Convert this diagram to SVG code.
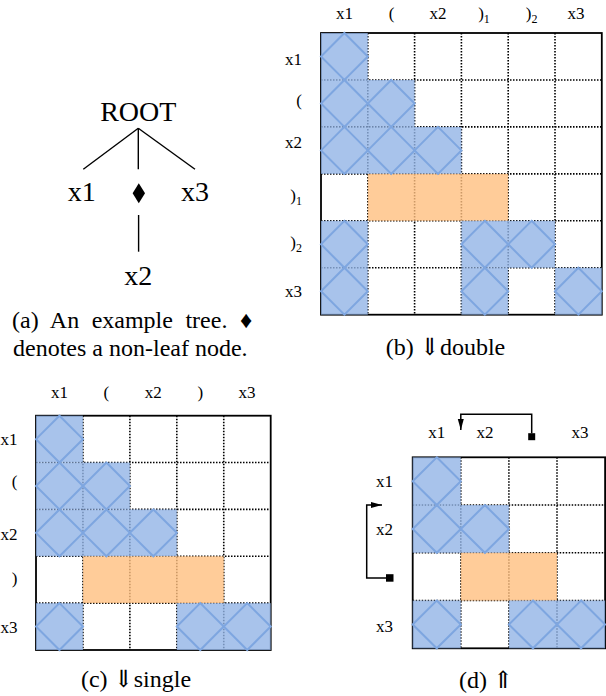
<svg xmlns="http://www.w3.org/2000/svg" width="606" height="696" viewBox="0 0 606 696">
<style>
text{font-family:"Liberation Serif","DejaVu Serif",serif;fill:#000}
.t{font-size:28px;text-anchor:middle}
.lb{font-size:17px;text-anchor:middle}
.rl{font-size:17px;text-anchor:end}
.cap{font-size:24px;text-anchor:middle}
.sub{font-size:12px}
.edge{stroke:#000;stroke-width:1.4;fill:none}
.dot{stroke:#000;stroke-width:1.6;stroke-dasharray:1.5 1.5;fill:none}
.bd{stroke:#000;stroke-width:1.8;fill:none}
.b{fill:#92b4e6;fill-opacity:0.8}
.o{fill:#ffbf80;fill-opacity:0.8}
.d{fill:none;stroke:#7ea6e0;stroke-width:2}
.arr{stroke:#000;stroke-width:1.5;fill:none}
</style>
<defs>
<marker id="ah" markerUnits="userSpaceOnUse" markerWidth="12" markerHeight="7" refX="11" refY="3.5" orient="auto" viewBox="0 0 12 7">
<path d="M0,0.5 L11,3.5 L0,6.5 z" fill="#000"/>
</marker>
</defs>
<rect width="606" height="696" fill="#fff"/>

<!-- (a) tree -->
<g id="tree-connectors">
<line class="edge" x1="138.3" y1="128.3" x2="83.3" y2="169.3"/>
<line class="edge" x1="138.3" y1="128.3" x2="138.3" y2="169.3"/>
<line class="edge" x1="138.3" y1="128.3" x2="195" y2="169.3"/>
<line class="edge" x1="138.6" y1="215" x2="138.6" y2="251.7"/>
</g>
<g id="node-root"><text class="t" x="138.3" y="120.7">ROOT</text></g>
<g id="node-x1"><text class="t" x="81.7" y="201">x1</text></g>
<g id="node-nonleaf"><polygon points="138.8,183.3 145,193.3 138.8,203.3 132.6,193.3" fill="#000"/></g>
<g id="node-x3"><text class="t" x="195" y="201">x3</text></g>
<g id="node-x2"><text class="t" x="138.3" y="285">x2</text></g>
<g id="caption-a">
<text style="font-size:24px" x="12" y="328" word-spacing="6.5">(a) An example tree. ♦</text>
<text style="font-size:24px" x="13" y="356">denotes a non-leaf node.</text>
</g>

<!-- (b) double -->
<g id="grid-b">
<g id="b-labels-col">
<text class="lb" x="344.4" y="19">x1</text>
<text class="lb" x="391.5" y="19">(</text>
<text class="lb" x="438" y="19">x2</text>
<text class="lb" x="484" y="19">)<tspan class="sub" dy="4">1</tspan></text>
<text class="lb" x="531.6" y="19">)<tspan class="sub" dy="4">2</tspan></text>
<text class="lb" x="576" y="19">x3</text>
</g>
<g id="b-labels-row">
<text class="rl" x="302" y="65">x1</text>
<text class="rl" x="302" y="106">(</text>
<text class="rl" x="302" y="148">x2</text>
<text class="rl" x="302" y="201">)<tspan class="sub" dy="4">1</tspan></text>
<text class="rl" x="302" y="248">)<tspan class="sub" dy="4">2</tspan></text>
<text class="rl" x="302" y="297">x3</text>
</g>
<path class="dot" d="M367.8,33V314.7M414.6,33V314.7M461.4,33V314.7M508.2,33V314.7M555,33V314.7M321,79.95H601.8M321,126.9H601.8M321,173.85H601.8M321,220.8H601.8M321,267.75H601.8"/>
<rect class="bd" x="321" y="33" width="280.8" height="281.7"/>
<rect class="b" x="321" y="33" width="46.8" height="46.95"/>
<rect class="b" x="321" y="79.95" width="93.6" height="46.95"/>
<rect class="b" x="321" y="126.9" width="140.4" height="46.95"/>
<rect class="o" x="367.8" y="173.85" width="140.4" height="46.95"/>
<rect class="b" x="321" y="220.8" width="46.8" height="93.9"/>
<rect class="b" x="461.4" y="220.8" width="93.6" height="46.95"/>
<rect class="b" x="461.4" y="267.75" width="46.8" height="46.95"/>
<rect class="b" x="555" y="267.75" width="46.8" height="46.95"/>
<polygon class="d" points="344.4,33 367.8,56.48 344.4,79.95 321,56.48"/>
<polygon class="d" points="344.4,79.95 367.8,103.43 344.4,126.9 321,103.43"/>
<polygon class="d" points="391.2,79.95 414.6,103.43 391.2,126.9 367.8,103.43"/>
<polygon class="d" points="344.4,126.9 367.8,150.38 344.4,173.85 321,150.38"/>
<polygon class="d" points="391.2,126.9 414.6,150.38 391.2,173.85 367.8,150.38"/>
<polygon class="d" points="438,126.9 461.4,150.38 438,173.85 414.6,150.38"/>
<polygon class="d" points="344.4,220.8 367.8,244.28 344.4,267.75 321,244.28"/>
<polygon class="d" points="484.8,220.8 508.2,244.28 484.8,267.75 461.4,244.28"/>
<polygon class="d" points="531.6,220.8 555,244.28 531.6,267.75 508.2,244.28"/>
<polygon class="d" points="344.4,267.75 367.8,291.23 344.4,314.7 321,291.23"/>
<polygon class="d" points="484.8,267.75 508.2,291.23 484.8,314.7 461.4,291.23"/>
<polygon class="d" points="578.4,267.75 601.8,291.23 578.4,314.7 555,291.23"/>
<text class="cap" x="445.5" y="355">(b) ⇓double</text>
</g>

<!-- (c) single -->
<g id="grid-c">
<g id="c-labels-col">
<text class="lb" x="59.5" y="398">x1</text>
<text class="lb" x="106.4" y="398">(</text>
<text class="lb" x="153.3" y="398">x2</text>
<text class="lb" x="200.3" y="398">)</text>
<text class="lb" x="247" y="398">x3</text>
</g>
<g id="c-labels-row">
<text class="rl" x="17.5" y="445">x1</text>
<text class="rl" x="17.5" y="487">(</text>
<text class="rl" x="17.5" y="540">x2</text>
<text class="rl" x="17.5" y="584">)</text>
<text class="rl" x="17.5" y="633">x3</text>
</g>
<path class="dot" d="M82.94,415.7V650M129.88,415.7V650M176.82,415.7V650M223.76,415.7V650M36,462.56H270.7M36,509.42H270.7M36,556.28H270.7M36,603.14H270.7"/>
<rect class="bd" x="36" y="415.7" width="234.7" height="234.3"/>
<rect class="b" x="36" y="415.7" width="46.94" height="46.86"/>
<rect class="b" x="36" y="462.56" width="93.88" height="46.86"/>
<rect class="b" x="36" y="509.42" width="140.82" height="46.86"/>
<rect class="o" x="82.94" y="556.28" width="140.82" height="46.86"/>
<rect class="b" x="36" y="603.14" width="46.94" height="46.86"/>
<rect class="b" x="176.82" y="603.14" width="93.88" height="46.86"/>
<polygon class="d" points="59.47,415.7 82.94,439.13 59.47,462.56 36,439.13"/>
<polygon class="d" points="59.47,462.56 82.94,485.99 59.47,509.42 36,485.99"/>
<polygon class="d" points="106.41,462.56 129.88,485.99 106.41,509.42 82.94,485.99"/>
<polygon class="d" points="59.47,509.42 82.94,532.85 59.47,556.28 36,532.85"/>
<polygon class="d" points="106.41,509.42 129.88,532.85 106.41,556.28 82.94,532.85"/>
<polygon class="d" points="153.35,509.42 176.82,532.85 153.35,556.28 129.88,532.85"/>
<polygon class="d" points="59.47,603.14 82.94,626.57 59.47,650 36,626.57"/>
<polygon class="d" points="200.29,603.14 223.76,626.57 200.29,650 176.82,626.57"/>
<polygon class="d" points="247.23,603.14 270.7,626.57 247.23,650 223.76,626.57"/>
<text class="cap" x="136" y="687">(c) ⇓single</text>
</g>

<!-- (d) up -->
<g id="grid-d">
<g id="d-labels-col">
<text class="lb" x="436.7" y="438">x1</text>
<text class="lb" x="485" y="438">x2</text>
<rect x="528.2" y="433.2" width="7" height="7" fill="#000"/>
<text class="lb" x="580" y="438">x3</text>
</g>
<g id="d-labels-row">
<text class="rl" x="393" y="486.5">x1</text>
<text class="rl" x="393" y="535">x2</text>
<rect x="386" y="574.2" width="7.5" height="7.5" fill="#000"/>
<text class="rl" x="393" y="631.5">x3</text>
</g>
<g id="d-connectors">
<path class="arr" d="M531.7,433.2V414.3H460.8V430" marker-end="url(#ah)"/>
<path class="arr" d="M386,578H366.7V505H382" marker-end="url(#ah)"/>
</g>
<path class="dot" d="M460.8,457.3V648.3M508.9,457.3V648.3M557,457.3V648.3M412.7,505.05H605.1M412.7,552.8H605.1M412.7,600.55H605.1"/>
<rect class="bd" x="412.7" y="457.3" width="192.4" height="191"/>
<rect class="b" x="412.7" y="457.3" width="48.1" height="47.75"/>
<rect class="b" x="412.7" y="505.05" width="96.2" height="47.75"/>
<rect class="o" x="460.8" y="552.8" width="96.2" height="47.75"/>
<rect class="b" x="412.7" y="600.55" width="48.1" height="47.75"/>
<rect class="b" x="508.9" y="600.55" width="96.2" height="47.75"/>
<polygon class="d" points="436.75,457.3 460.8,481.18 436.75,505.05 412.7,481.18"/>
<polygon class="d" points="436.75,505.05 460.8,528.93 436.75,552.8 412.7,528.93"/>
<polygon class="d" points="484.85,505.05 508.9,528.93 484.85,552.8 460.8,528.93"/>
<polygon class="d" points="436.75,600.55 460.8,624.43 436.75,648.3 412.7,624.43"/>
<polygon class="d" points="532.95,600.55 557,624.43 532.95,648.3 508.9,624.43"/>
<polygon class="d" points="581.05,600.55 605.1,624.43 581.05,648.3 557,624.43"/>
<text class="cap" x="486" y="688">(d) ⇑</text>
</g>
</svg>
